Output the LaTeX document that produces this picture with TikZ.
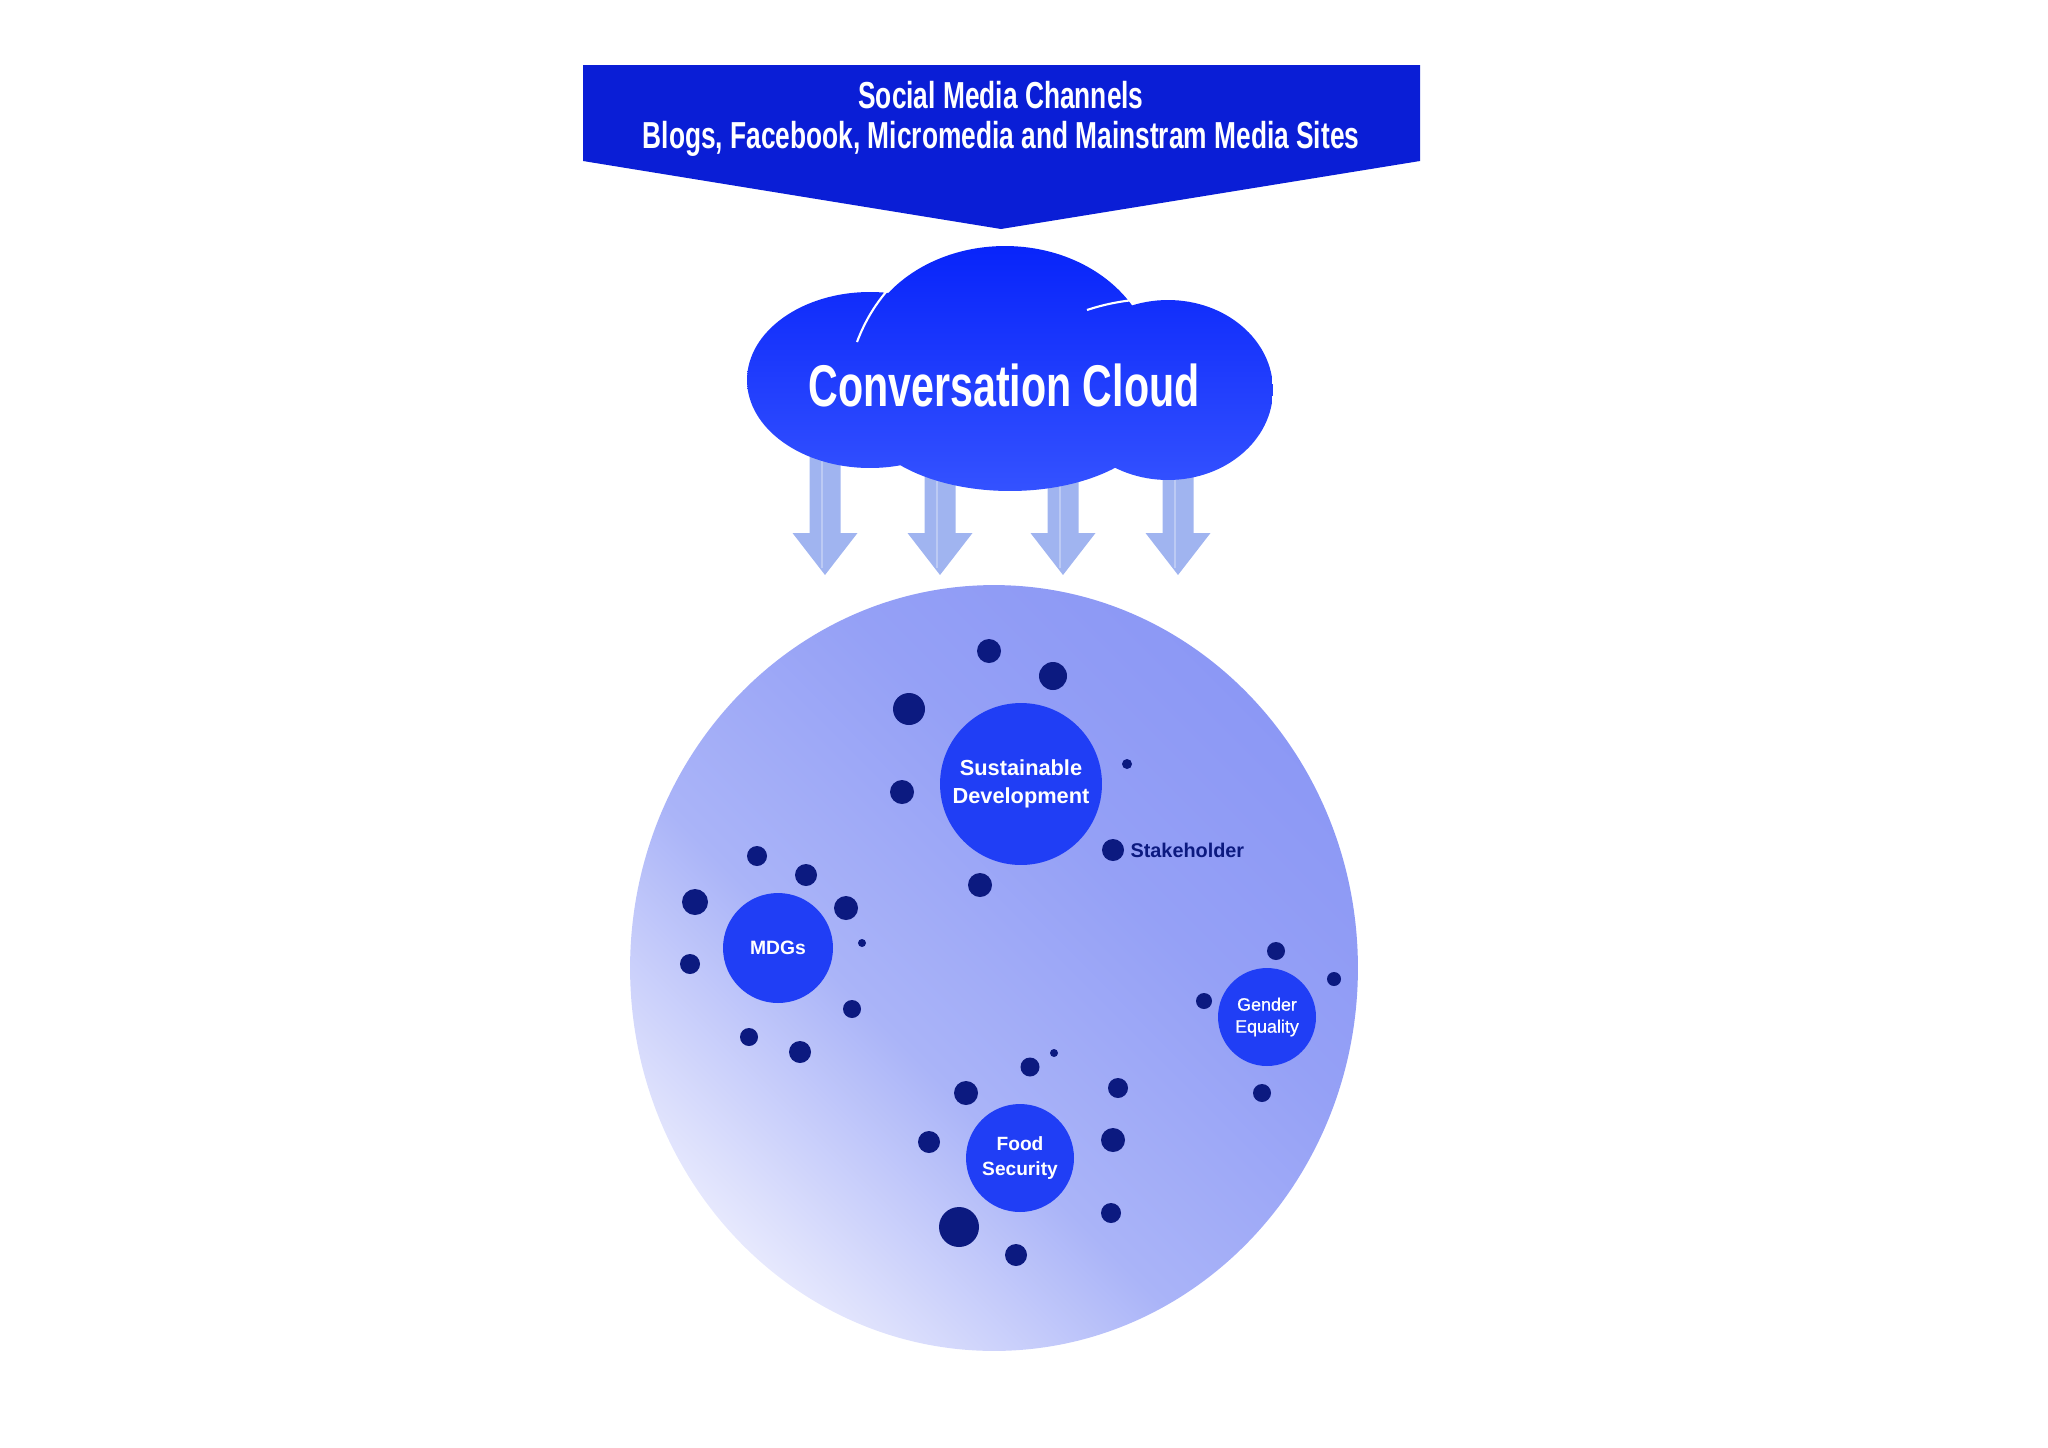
\documentclass[tikz,border=0pt]{standalone}
\usepackage{fontspec}
\setmainfont{Liberation Sans}
\newfontfamily\condfont{Liberation Sans}[FakeStretch=0.7]
\newfontfamily\midfont{Liberation Sans}[FakeBold=0.6]
\usepackage{xcolor}
\usepackage{tikz}
\usetikzlibrary{positioning}

\definecolor{bannerblue}{RGB}{10,30,214}
\definecolor{cloudtop}{RGB}{8,36,250}
\definecolor{cloudbottom}{RGB}{52,82,255}
\definecolor{arrowblue}{RGB}{160,180,240}
\definecolor{globedark}{RGB}{140,152,245}
\definecolor{globemid}{RGB}{170,180,248}
\definecolor{globelight}{RGB}{230,232,253}
\definecolor{topicblue}{RGB}{32,62,245}
\definecolor{navy}{RGB}{12,26,128}
\pgfdeclareverticalshading{globeshade}{100bp}{color(0bp)=(globelight); color(25bp)=(globelight); color(42bp)=(globemid); color(60bp)=(globedark!70!globemid); color(75bp)=(globedark); color(100bp)=(globedark)}

\begin{document}
\begin{tikzpicture}[x=0.02cm, y=-0.02cm]
\tikzstyle{topic} = [circle, fill=topicblue, text=white, align=center, inner sep=0pt]
\tikzstyle{stake} = [circle, fill=navy, inner sep=0pt]
\tikzstyle{flow} = [fill=arrowblue]
\tikzstyle{shine} = [white, line width=1.2pt]

\useasboundingbox (0,0) rectangle (2048,1447);

\fill[bannerblue] (583,65) -- (1420,65) -- (1420,161) -- (1001,229) -- (583,161) -- cycle;
\node (banner) at (1001,119) [text=white, align=center, font=\condfont\bfseries\fontsize{21.4}{22.4}\selectfont] {Social Media Channels\\Blogs, Facebook, Micromedia and Mainstram Media Sites};

\fill[flow] (809.5,455) -- (840.5,455) -- (840.5,533) -- (857.5,533) -- (825,575) -- (792.5,533) -- (809.5,533) -- cycle;
\fill[flow] (924.5,455) -- (955.5,455) -- (955.5,533) -- (972.5,533) -- (940,575) -- (907.5,533) -- (924.5,533) -- cycle;
\fill[flow] (1047.5,455) -- (1078.5,455) -- (1078.5,533) -- (1095.5,533) -- (1063,575) -- (1030.5,533) -- (1047.5,533) -- cycle;
\fill[flow] (1162.5,455) -- (1193.5,455) -- (1193.5,533) -- (1210.5,533) -- (1178,575) -- (1145.5,533) -- (1162.5,533) -- cycle;
\draw[white, opacity=0.3, line width=1.5pt] (822,455) -- (822,568) (937,455) -- (937,568) (1060,455) -- (1060,568) (1175,455) -- (1175,568);

\shade[top color=cloudtop, bottom color=cloudbottom] (870,380) ellipse [x radius=2.46cm, y radius=1.76cm] (1005,368) ellipse [x radius=2.96cm, y radius=2.44cm] (1168,390) ellipse [x radius=2.10cm, y radius=1.80cm] (1010,410) ellipse [x radius=3.0cm, y radius=1.62cm];
\draw[shine] (857,342) .. controls (866,318) and (879,298) .. (897,280);
\draw[shine] (1087,310) .. controls (1105,304) and (1125,300) .. (1147,299);
\node (cloud) at (1004,385) [text=white, font=\condfont\bfseries\fontsize{33.5}{36}\selectfont] {Conversation Cloud};

\shade[shading=globeshade, shading angle=-45] (994,968) ellipse [x radius=7.28cm, y radius=7.66cm];

\node (sd) [topic, minimum size=3.24cm, font=\bfseries\fontsize{12.4}{15.9}\selectfont] at (1021,784) {Sustainable\\Development};
\node (mdg) [topic, minimum size=2.2cm, font=\bfseries\fontsize{11}{13}\selectfont] at (778,948) {MDGs};
\node (gender) [topic, minimum size=1.96cm, font=\midfont\fontsize{10.2}{12.5}\selectfont] at (1267,1017) {Gender\\Equality};
\node (food) [topic, minimum size=2.16cm, font=\bfseries\fontsize{10.9}{14.2}\selectfont] at (1020,1158) {Food\\Security};

\node (sd1) [stake, minimum size=0.48cm] at (989,651) {};
\node (sd2) [stake, minimum size=0.56cm] at (1053,676) {};
\node (sd3) [stake, minimum size=0.64cm] at (909,709) {};
\node (sd4) [stake, minimum size=0.48cm] at (902,792) {};
\node (sd5) [stake, minimum size=0.2cm] at (1127,764) {};
\node (sd6) [stake, minimum size=0.44cm] at (1113,850) {};
\node (sd7) [stake, minimum size=0.48cm] at (980,885) {};
\node (stakeholder) [right=0pt of sd6, text=navy, font=\bfseries\fontsize{11.3}{13}\selectfont] {Stakeholder};

\node (md1) [stake, minimum size=0.4cm] at (757,856) {};
\node (md2) [stake, minimum size=0.44cm] at (806,875) {};
\node (md3) [stake, minimum size=0.52cm] at (695,902) {};
\node (md4) [stake, minimum size=0.48cm] at (846,908) {};
\node (md5) [stake, minimum size=0.16cm] at (862,943) {};
\node (md6) [stake, minimum size=0.4cm] at (690,964) {};
\node (md7) [stake, minimum size=0.36cm] at (852,1009) {};
\node (md8) [stake, minimum size=0.36cm] at (749,1037) {};
\node (md9) [stake, minimum size=0.44cm] at (800,1052) {};

\node (ge1) [stake, minimum size=0.36cm] at (1276,951) {};
\node (ge2) [stake, minimum size=0.28cm] at (1334,979) {};
\node (ge3) [stake, minimum size=0.32cm] at (1204,1001) {};
\node (ge4) [stake, minimum size=0.36cm] at (1262,1093) {};

\node (fs1) [stake, minimum size=0.16cm] at (1054,1053) {};
\node (fs2) [stake, minimum size=0.38cm] at (1030,1067) {};
\node (fs3) [stake, minimum size=0.48cm] at (966,1093) {};
\node (fs4) [stake, minimum size=0.4cm] at (1118,1088) {};
\node (fs5) [stake, minimum size=0.44cm] at (929,1142) {};
\node (fs6) [stake, minimum size=0.48cm] at (1113,1140) {};
\node (fs7) [stake, minimum size=0.4cm] at (1111,1213) {};
\node (fs8) [stake, minimum size=0.8cm] at (959,1227) {};
\node (fs9) [stake, minimum size=0.44cm] at (1016,1255) {};

\end{tikzpicture}
\end{document}
